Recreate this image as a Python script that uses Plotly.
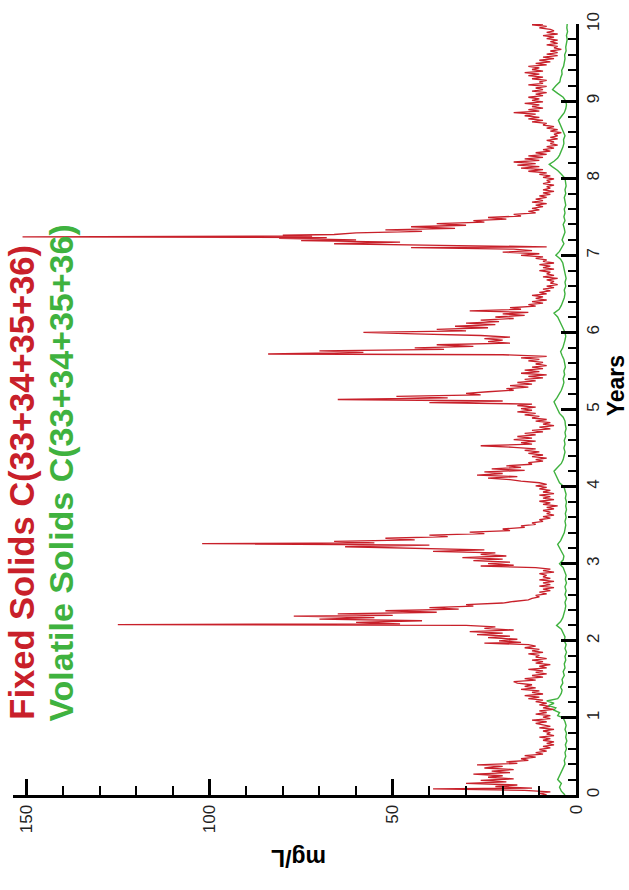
import plotly.graph_objects as go

# ---------------- data ----------------
years_fixed = [
    0.00, 0.02, 0.04, 0.06, 0.08, 0.09, 0.11, 0.13, 0.15, 0.17, 0.19, 0.21, 0.23, 0.25, 0.27, 0.29, 0.31, 0.33, 0.35, 0.37,
    0.39, 0.41, 0.43, 0.45, 0.47, 0.49, 0.51, 0.53, 0.55, 0.57, 0.59, 0.61, 0.63, 0.65, 0.67, 0.69, 0.71, 0.73, 0.75, 0.77,
    0.79, 0.81, 0.83, 0.85, 0.87, 0.89, 0.91, 0.93, 0.95, 0.97, 0.99,
    1.01, 1.03, 1.05, 1.07, 1.09, 1.11, 1.13, 1.15, 1.17, 1.19, 1.21, 1.23, 1.25, 1.27, 1.29, 1.31, 1.33, 1.35, 1.37, 1.39,
    1.41, 1.43, 1.45, 1.47, 1.49, 1.51, 1.53, 1.55, 1.57, 1.59, 1.61, 1.63, 1.65, 1.67, 1.69, 1.71, 1.73, 1.75, 1.77, 1.79,
    1.81, 1.83, 1.85, 1.87, 1.89, 1.91, 1.93, 1.95, 1.97, 1.98, 2.00,
    2.02, 2.04, 2.06, 2.08, 2.10, 2.12, 2.14, 2.16, 2.18, 2.20, 2.21, 2.22, 2.24, 2.26, 2.28, 2.30, 2.32, 2.33, 2.35, 2.37,
    2.39, 2.41, 2.43, 2.45, 2.47, 2.49, 2.51, 2.53, 2.55, 2.57, 2.59, 2.61, 2.63, 2.65, 2.67, 2.69, 2.71, 2.73, 2.75, 2.77,
    2.79, 2.81, 2.83, 2.85, 2.87, 2.89, 2.91, 2.93, 2.95, 2.97, 2.98,
    3.00, 3.02, 3.04, 3.06, 3.08, 3.10, 3.12, 3.14, 3.16, 3.18, 3.20, 3.22, 3.24, 3.26, 3.27, 3.29, 3.31, 3.33, 3.35, 3.37,
    3.39, 3.41, 3.43, 3.45, 3.47, 3.49, 3.51, 3.53, 3.55, 3.57, 3.59, 3.61, 3.63, 3.65, 3.67, 3.69, 3.71, 3.73, 3.75, 3.77,
    3.79, 3.81, 3.83, 3.85, 3.87, 3.89, 3.91, 3.93, 3.95, 3.97, 3.99,
    4.01, 4.03, 4.05, 4.07, 4.09, 4.11, 4.13, 4.15, 4.17, 4.19, 4.21, 4.23, 4.25, 4.27, 4.29, 4.31, 4.33, 4.35, 4.37, 4.39,
    4.41, 4.43, 4.45, 4.47, 4.49, 4.51, 4.53, 4.55, 4.57, 4.59, 4.61, 4.63, 4.65, 4.67, 4.69, 4.71, 4.73, 4.75, 4.77, 4.79,
    4.81, 4.83, 4.85, 4.87, 4.89, 4.91, 4.93, 4.95, 4.97, 4.99,
    5.01, 5.03, 5.05, 5.07, 5.09, 5.11, 5.13, 5.15, 5.17, 5.19, 5.21, 5.23, 5.25, 5.27, 5.29, 5.31, 5.33, 5.35, 5.37, 5.39,
    5.41, 5.43, 5.45, 5.47, 5.49, 5.51, 5.53, 5.55, 5.57, 5.59, 5.61, 5.63, 5.65, 5.67, 5.69, 5.71, 5.72, 5.74, 5.76, 5.78,
    5.80, 5.82, 5.84, 5.86, 5.88, 5.90, 5.92, 5.94, 5.96, 5.98, 6.00,
    6.02, 6.04, 6.06, 6.08, 6.10, 6.12, 6.14, 6.16, 6.18, 6.20, 6.22, 6.24, 6.26, 6.28, 6.30, 6.32, 6.34, 6.36, 6.38, 6.40,
    6.42, 6.44, 6.46, 6.48, 6.50, 6.52, 6.54, 6.56, 6.58, 6.60, 6.62, 6.64, 6.66, 6.68, 6.70, 6.72, 6.74, 6.76, 6.78, 6.80,
    6.82, 6.84, 6.86, 6.88, 6.90, 6.92, 6.94, 6.96, 6.98, 7.00,
    7.02, 7.04, 7.06, 7.08, 7.10, 7.11, 7.13, 7.15, 7.17, 7.19, 7.20, 7.22, 7.23, 7.24, 7.25, 7.26, 7.27, 7.29, 7.31, 7.33,
    7.35, 7.37, 7.39, 7.41, 7.43, 7.45, 7.47, 7.49, 7.51, 7.53, 7.55, 7.57, 7.59, 7.61, 7.63, 7.65, 7.67, 7.69, 7.71, 7.73,
    7.75, 7.77, 7.79, 7.81, 7.83, 7.85, 7.87, 7.89, 7.91, 7.93, 7.95, 7.97, 7.99,
    8.01, 8.03, 8.05, 8.07, 8.09, 8.11, 8.13, 8.15, 8.17, 8.19, 8.21, 8.23, 8.25, 8.27, 8.29, 8.31, 8.33, 8.35, 8.37, 8.39,
    8.41, 8.43, 8.45, 8.47, 8.49, 8.51, 8.53, 8.55, 8.57, 8.59, 8.61, 8.63, 8.65, 8.67, 8.69, 8.71, 8.73, 8.75, 8.77, 8.79,
    8.81, 8.83, 8.85, 8.87, 8.89, 8.91, 8.93, 8.95, 8.97, 8.99,
    9.01, 9.03, 9.05, 9.07, 9.09, 9.11, 9.13, 9.15, 9.17, 9.19, 9.21, 9.23, 9.25, 9.27, 9.29, 9.31, 9.33, 9.35, 9.37, 9.39,
    9.41, 9.43, 9.45, 9.47, 9.49, 9.51, 9.53, 9.55, 9.57, 9.59, 9.61, 9.63, 9.65, 9.67, 9.69, 9.71, 9.73, 9.75, 9.77, 9.79,
    9.81, 9.83, 9.85, 9.87, 9.89, 9.91, 9.93, 9.95, 9.97, 9.99, 10.00,
]

fixed_solids = [
    8, 10, 7, 14, 39, 12, 22, 16, 30, 19, 26, 17, 24, 20, 28, 18, 23, 17, 25, 20,
    27, 16, 19, 13, 15, 11, 14, 9, 11, 8, 10, 7, 9, 6, 8, 6, 9, 7, 10, 6,
    8, 7, 9, 6, 10, 7, 9, 11, 8, 12, 7,
    9, 7, 11, 8, 10, 6, 9, 7, 10, 8, 11, 9, 13, 10, 14, 9, 12, 10, 15, 11,
    14, 12, 16, 17, 11, 14, 9, 12, 8, 11, 9, 13, 8, 10, 7, 11, 9, 12, 8, 11,
    10, 13, 9, 12, 10, 14, 11, 13, 25, 15, 21,
    16, 24, 18, 27, 20, 29, 17, 25, 22, 30, 125, 48, 60, 42, 70, 55, 77, 50, 65, 38,
    52, 32, 40, 28, 30, 20, 17, 13, 12, 10, 11, 8, 10, 7, 9, 6, 10, 7, 9, 6,
    10, 7, 9, 8, 10, 6, 9, 7, 11, 26, 17,
    24, 18, 28, 20, 31, 19, 26, 22, 39, 25, 48, 63, 40, 102, 55, 66, 44, 52, 35, 40,
    25, 29, 18, 20, 14, 15, 11, 12, 9, 10, 7, 9, 6, 8, 7, 9, 6, 8, 5, 9,
    7, 10, 6, 9, 7, 10, 6, 9, 7, 10, 8,
    11, 8, 10, 15, 18, 24, 16, 27, 20, 25, 14, 23, 15, 19, 12, 13, 9, 11, 8, 12,
    9, 13, 10, 14, 11, 17, 26, 12, 15, 11, 17, 12, 16, 11, 14, 9, 12, 7, 10, 6,
    9, 7, 11, 8, 12, 10, 14, 11, 16, 12,
    15, 11, 16, 12, 40, 20, 65, 35, 49, 26, 30, 24, 17, 19, 13, 18, 12, 16, 11, 14,
    9, 13, 8, 15, 10, 14, 9, 12, 8, 11, 9, 13, 10, 15, 8, 20, 84, 58, 70, 36,
    44, 28, 38, 18, 24, 20, 25, 18, 26, 44, 58,
    30, 38, 24, 33, 22, 30, 21, 26, 17, 22, 14, 20, 13, 29, 15, 18, 11, 13, 9, 12,
    8, 11, 9, 12, 8, 10, 7, 9, 6, 8, 5, 7, 6, 8, 5, 9, 6, 8, 7, 10,
    6, 9, 7, 10, 6, 9, 8, 11, 9, 15,
    10, 20, 12, 17, 45, 8, 37, 66, 48, 75, 60, 81, 68, 151, 72, 80, 66, 60, 42, 52,
    33, 45, 30, 38, 25, 28, 19, 24, 15, 17, 11, 13, 10, 12, 9, 11, 8, 12, 9, 11,
    8, 10, 7, 9, 6, 9, 7, 8, 6, 9, 7, 8, 6,
    9, 7, 10, 8, 13, 9, 15, 10, 16, 11, 17, 10, 14, 9, 13, 8, 11, 7, 9, 6,
    8, 5, 7, 6, 8, 5, 7, 5, 6, 4, 7, 5, 8, 6, 9, 8, 12, 9, 13, 10,
    14, 11, 17, 10, 13, 9, 12, 10, 14, 9,
    12, 10, 13, 9, 11, 8, 12, 9, 11, 8, 13, 9, 10, 8, 12, 9, 13, 10, 14, 9,
    12, 10, 13, 8, 11, 7, 10, 6, 9, 5, 8, 5, 7, 4, 6, 5, 8, 5, 7, 5,
    8, 6, 9, 5, 8, 6, 7, 10, 8, 12, 9,
]

years_volatile = [
    0.00, 0.05, 0.10, 0.15, 0.20, 0.25, 0.30, 0.35, 0.40, 0.45, 0.50, 0.55, 0.60, 0.65, 0.70, 0.75, 0.80, 0.85, 0.90, 0.95,
    1.00, 1.03, 1.07, 1.10, 1.13, 1.16, 1.19, 1.22, 1.25, 1.28, 1.32, 1.36, 1.40, 1.45, 1.50, 1.55, 1.60, 1.65, 1.70, 1.75,
    1.80, 1.85, 1.90, 1.95,
    2.00, 2.05, 2.10, 2.15, 2.20, 2.25, 2.30, 2.35, 2.40, 2.45, 2.50, 2.55, 2.60, 2.65, 2.70, 2.75, 2.80, 2.85, 2.90, 2.95,
    3.00, 3.05, 3.10, 3.15, 3.20, 3.25, 3.30, 3.35, 3.40, 3.45, 3.50, 3.55, 3.60, 3.65, 3.70, 3.75, 3.80, 3.85, 3.90, 3.95,
    4.00, 4.05, 4.10, 4.15, 4.20, 4.25, 4.30, 4.35, 4.40, 4.45, 4.50, 4.55, 4.60, 4.65, 4.70, 4.75, 4.80, 4.85, 4.90, 4.95,
    5.00, 5.05, 5.10, 5.15, 5.20, 5.25, 5.30, 5.35, 5.40, 5.45, 5.50, 5.55, 5.60, 5.65, 5.70, 5.75, 5.80, 5.85, 5.90, 5.95,
    6.00, 6.05, 6.10, 6.15, 6.20, 6.25, 6.30, 6.35, 6.40, 6.45, 6.50, 6.55, 6.60, 6.65, 6.70, 6.75, 6.80, 6.85, 6.90, 6.95,
    7.00, 7.05, 7.10, 7.15, 7.20, 7.25, 7.30, 7.35, 7.40, 7.45, 7.50, 7.55, 7.60, 7.65, 7.70, 7.75, 7.80, 7.85, 7.90, 7.95,
    8.00, 8.05, 8.10, 8.15, 8.18, 8.22, 8.26, 8.30, 8.35, 8.40, 8.45, 8.50, 8.55, 8.60, 8.65, 8.70, 8.75, 8.80, 8.85, 8.90,
    8.95, 9.00, 9.05, 9.10, 9.15, 9.20, 9.25, 9.30, 9.35, 9.40, 9.45, 9.50, 9.55, 9.60, 9.65, 9.70, 9.75, 9.80, 9.85, 9.90,
    9.95, 10.00,
]

volatile_solids = [
    3, 4, 4.5, 4, 5, 4.5, 4, 3.5, 3, 3.2, 2.8, 3, 2.6, 2.9, 2.5, 2.8, 2.6, 3, 2.7, 3,
    3.5, 5, 4.5, 6, 5.5, 7.5, 6, 8, 5, 4.5, 4, 3.8, 4.2, 3.6, 3.8, 3.2, 3.5, 3, 3.2, 2.8,
    3, 2.6, 3, 2.7,
    3.2, 3, 3.5, 4, 5.3, 4.2, 3.6, 3.2, 3, 2.8, 3, 2.6, 3, 2.7, 3, 2.6, 2.9, 2.7, 3, 3.5,
    4.5, 3.5, 3.3, 3.8, 4.5, 5, 4.2, 3.6, 3.2, 3, 2.8, 3, 2.7, 2.9, 2.6, 2.8, 2.6, 2.9, 2.7, 3,
    3.3, 4.5, 5, 5.5, 6, 5, 4, 3.5, 3.2, 3, 3.3, 3, 3.2, 2.8, 3, 2.7, 2.9, 3, 3.5, 4.5,
    5, 5.5, 6, 5.2, 4.5, 4, 3.6, 3.3, 3.5, 3.1, 3.3, 2.9, 3.1, 3.3, 3.8, 4.2, 3.6, 3.2, 3, 2.8,
    3, 3.5, 4, 4.5, 5, 6, 4.6, 4, 3.5, 3.2, 3, 3.2, 2.8, 3, 2.7, 2.9, 3, 3.3, 3.6, 4.2,
    5.5, 4.5, 3.8, 3.3, 3.8, 3.4, 3, 3.2, 3.5, 3, 3.3, 3, 3.2, 2.8, 3, 3.2, 2.8, 3, 2.7, 2.9,
    3, 4, 5, 6.5, 7.3, 6, 5, 4.5, 4, 3.6, 3.3, 3.4, 3, 3.5, 3.8, 4.4, 4.8, 4, 3.2, 2.8,
    2.6, 2.8, 3.5, 5, 6.4, 5.5, 4.4, 4.2, 3.8, 3.9, 3.4, 3.2, 3, 3.1, 2.7, 2.8, 2.5, 2.4, 2.6, 2.3,
    2.5, 2.4,
]

fixed_label = "Fixed Solids C(33+34+35+36)"
volatile_label = "Volatile Solids C(33+34+35+36)"
value_ticks = [0, 50, 100, 150]
year_ticks = [0, 1, 2, 3, 4, 5, 6, 7, 8, 9, 10]

RED = "#c8202a"
GREEN = "#3fb23f"
FONT = "Liberation Sans, Arial, sans-serif"

fig = go.Figure()
fig.add_trace(go.Scatter(x=fixed_solids, y=years_fixed, mode="lines",
                         line=dict(color=RED, width=1.3), name=fixed_label))
fig.add_trace(go.Scatter(x=volatile_solids, y=years_volatile, mode="lines",
                         line=dict(color=GREEN, width=1.4), name=volatile_label))

W, H = 629, 890
ml, mr, mt, mb = 13, 53, 12, 95
pw, ph = W - ml - mr, H - mt - mb


def px(xp):
    return (xp - ml) / pw


def py(yp):
    return (H - mb - yp) / ph


fig.update_layout(
    width=W, height=H,
    margin=dict(l=ml, r=mr, t=mt, b=mb),
    paper_bgcolor="white", plot_bgcolor="white",
    showlegend=False,
    font=dict(family=FONT, color="#222"),
    xaxis=dict(
        range=[153.6, 0], side="bottom",
        tickvals=value_ticks, ticktext=[str(v) for v in value_ticks],
        ticks="inside", ticklen=16, tickwidth=3, tickcolor="black",
        minor=dict(dtick=10, ticks="inside", ticklen=9, tickwidth=2, tickcolor="black", showgrid=False),
        showline=True, linewidth=3, linecolor="black", mirror=False,
        showgrid=False, zeroline=False, tickangle=-90, ticklabeloverflow="allow",
        tickfont=dict(size=17, color="#222"),
    ),
    yaxis=dict(
        range=[0, 10], side="right",
        tickvals=year_ticks, ticktext=[str(v) for v in year_ticks],
        ticks="inside", ticklen=15, tickwidth=3, tickcolor="black",
        minor=dict(dtick=0.2, ticks="inside", ticklen=8, tickwidth=2, tickcolor="black", showgrid=False),
        showline=True, linewidth=3, linecolor="black", mirror=False,
        showgrid=False, zeroline=False, tickangle=-90, ticklabeloverflow="allow",
        tickfont=dict(size=17, color="#222"),
    ),
)

annots = [
    dict(text=fixed_label, x=px(22), y=py(721), xanchor="center", yanchor="bottom",
         textangle=-90, font=dict(size=34.5, color=RED, family=FONT, weight="bold")),
    dict(text=volatile_label, x=px(61), y=py(723), xanchor="center", yanchor="bottom",
         textangle=-90, font=dict(size=34, color=GREEN, family=FONT, weight="bold")),
    dict(text="<b>Years</b>", x=px(616), y=py(380), xanchor="center", yanchor="middle",
         textangle=-90, font=dict(size=23, color="black", family=FONT)),
    dict(text="<b>mg/L</b>", x=px(299), y=py(859), xanchor="center", yanchor="middle",
         textangle=180, font=dict(size=23, color="black", family=FONT)),
]
for a in annots:
    fig.add_annotation(xref="paper", yref="paper", showarrow=False, **a)

fig.write_html("out.html", config={"displayModeBar": False},
               post_script="document.body.style.margin='0';document.body.style.padding='0';")
